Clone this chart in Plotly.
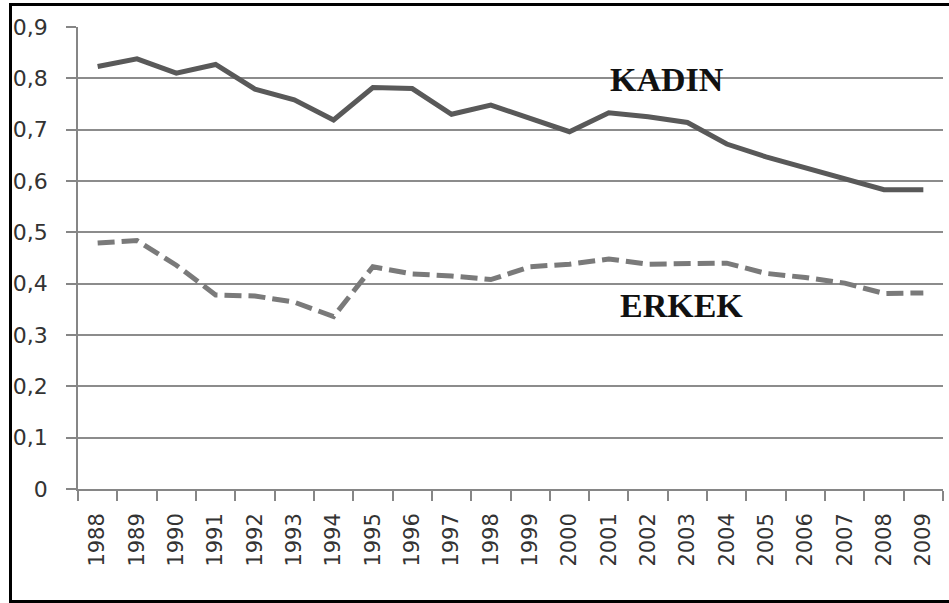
import plotly.graph_objects as go

years = [str(y) for y in range(1988, 2010)]
kadin = [0.823, 0.838, 0.810, 0.827, 0.779, 0.758, 0.719, 0.782, 0.780, 0.730, 0.748,
         0.722, 0.696, 0.733, 0.725, 0.714, 0.672, 0.647, 0.625, 0.605, 0.583, 0.583]
erkek = [0.479, 0.484, 0.436, 0.378, 0.376, 0.364, 0.336, 0.433, 0.419, 0.415, 0.408,
         0.433, 0.438, 0.448, 0.438, 0.440, 0.440, 0.420, 0.412, 0.401, 0.381, 0.382]
y_ticks = [0, 0.1, 0.2, 0.3, 0.4, 0.5, 0.6, 0.7, 0.8, 0.9]
y_labels = ["0", "0,1", "0,2", "0,3", "0,4", "0,5", "0,6", "0,7", "0,8", "0,9"]

W, H = 949, 603
L, R, T, B = 78, 6, 27, 114
pw, ph = W - L - R, H - T - B

fig = go.Figure()
fig.add_trace(go.Scatter(x=years, y=kadin, mode="lines", name="KADIN",
                         line=dict(color="#595959", width=5)))
fig.add_trace(go.Scatter(x=years, y=erkek, mode="lines", name="ERKEK",
                         line=dict(color="#7a7a7a", width=5, dash="17px,7px")))

def px_x(x):
    return (x - L) / pw

def px_y(y):
    return (H - B - y) / ph

fig.add_shape(type="rect", xref="paper", yref="paper",
              x0=px_x(10.5), x1=px_x(952), y0=px_y(601.5), y1=px_y(4.5),
              line=dict(color="black", width=3), fillcolor="rgba(0,0,0,0)", layer="above")

fig.add_annotation(x=14.47, y=0.798, text="<b>KADIN</b>", showarrow=False,
                   font=dict(family="Liberation Serif", size=34, color="#111111"))
fig.add_annotation(x=14.85, y=0.357, text="<b>ERKEK</b>", showarrow=False,
                   font=dict(family="Liberation Serif", size=34, color="#111111"))

fig.update_layout(
    width=W, height=H,
    margin=dict(l=L, r=R, t=T, b=B, autoexpand=False),
    paper_bgcolor="white", plot_bgcolor="white",
    showlegend=False,
    font=dict(family="DejaVu Sans", size=22, color="#404040"),
)
fig.update_xaxes(type="category", tickangle=-90, tickson="boundaries",
                 ticks="outside", ticklen=10, tickcolor="#868686", tickwidth=1.5,
                 showline=True, linecolor="#868686", linewidth=1.5,
                 showgrid=False, ticklabelstandoff=14, automargin=False,
                 tickfont=dict(family="DejaVu Sans", size=21, color="#333333"),
                 range=[-0.5, 21.5])
fig.update_yaxes(range=[0, 0.9], tickvals=y_ticks, ticktext=y_labels,
                 ticks="outside", ticklen=10, tickcolor="#868686", tickwidth=1.5,
                 showline=True, linecolor="#868686", linewidth=1.5,
                 showgrid=True, gridcolor="#8c8c8c", gridwidth=1.5,
                 zeroline=False, ticklabelstandoff=14, automargin=False,
                 tickfont=dict(family="DejaVu Sans", size=22, color="#333333"))

fig.write_html("out.html", config={"displayModeBar": False},
               post_script="document.body.style.margin='0px';document.body.style.overflow='hidden';")
